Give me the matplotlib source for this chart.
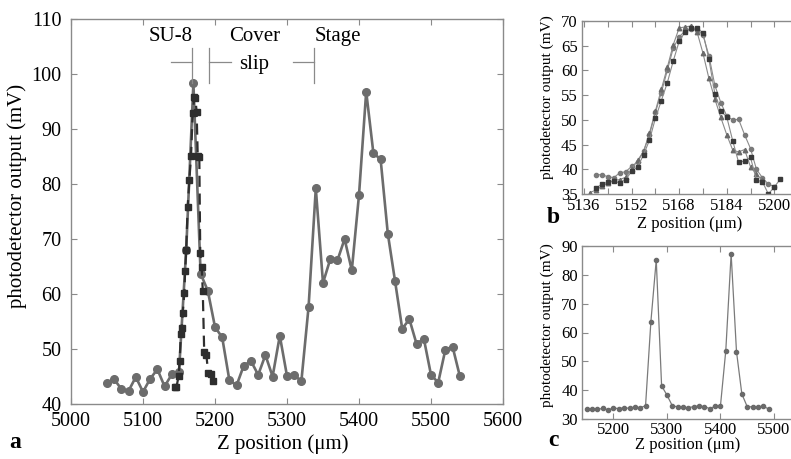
import matplotlib
matplotlib.use("Agg")
import matplotlib.pyplot as plt
import numpy as np

plt.rcParams["font.family"] = ["Liberation Serif", "DejaVu Serif"]

# ---- panel a data ----
a_circ_x = [5050, 5060, 5070, 5080, 5090, 5100, 5110, 5120, 5130, 5140,
            5150, 5160, 5170, 5180, 5190, 5200, 5210, 5220, 5230, 5240,
            5250, 5260, 5270, 5280, 5290, 5300, 5310, 5320, 5330, 5340,
            5350, 5360, 5370, 5380, 5390, 5400, 5410, 5420, 5430, 5440,
            5450, 5460, 5470, 5480, 5490, 5500, 5510, 5520, 5530, 5540]
a_circ_y = [43.9, 44.5, 42.7, 42.4, 44.9, 42.2, 44.6, 46.3, 43.2, 45.4,
            45.9, 68.0, 98.3, 63.7, 60.6, 54.0, 52.1, 44.3, 43.4, 47.0,
            47.8, 45.3, 48.9, 45.0, 52.4, 45.1, 45.2, 44.2, 57.7, 79.2,
            62.0, 66.3, 66.1, 70.0, 64.3, 78.0, 96.8, 85.6, 84.5, 71.0,
            62.4, 53.7, 55.4, 50.9, 51.9, 45.3, 43.9, 49.9, 50.4, 45.1]

a_sq_x = [5144.4, 5146.5, 5149.5, 5151.0, 5152.5, 5153.8, 5155.2, 5157.4,
          5158.5, 5160.0, 5162.0, 5164.4, 5166.7, 5169.0, 5171.3, 5172.7,
          5174.5, 5176.0, 5178.2, 5179.5, 5181.5, 5183.0, 5185.0, 5188.0,
          5190.5, 5194.0, 5197.7]
a_sq_y = [43.1, 43.1, 45.1, 47.9, 52.8, 53.8, 56.6, 60.1,
          64.1, 68.0, 75.9, 80.7, 85.1, 92.9, 95.9, 95.6,
          93.1, 85.1, 85.0, 67.5, 65.0, 60.6, 49.5, 48.9,
          45.7, 45.5, 44.2]

a_xticks = [5000, 5100, 5200, 5300, 5400, 5500, 5600]
a_yticks = [40, 50, 60, 70, 80, 90, 100, 110]

# region labels / brackets (data coords)
region_labels = [("SU-8", 5139, 106.8), ("Cover", 5255, 106.8),
                 ("slip", 5255, 101.8), ("Stage", 5371, 106.8)]
bracket_vlines = [5167.6, 5192.0, 5337.5]
bracket_hlines = [(5139, 5167.6), (5192.0, 5222), (5308, 5337.5)]

# ---- panel b data ----
b_x = [5138, 5140, 5142, 5144, 5146, 5148, 5150, 5152, 5154, 5156, 5158,
       5160, 5162, 5164, 5166, 5168, 5170, 5172, 5174, 5176, 5178, 5180,
       5182, 5184, 5186, 5188, 5190, 5192, 5194, 5196, 5198, 5200, 5202]
b_circ = [np.nan, 38.9, 38.9, 38.5, 38.3, 39.3, 39.5, 40.6, 41.5, 43.6, 47.0,
          51.5, 55.5, 60.0, 64.5, 66.8, 68.0, 68.4, 68.2, 67.2, 63.0, 57.0,
          53.5, 50.8, 50.0, 50.1, 47.0, 44.2, 40.0, 38.3, 37.0, 36.5, np.nan]
b_tri = [35.3, 35.8, 36.6, 37.2, 37.8, 37.9, 38.4, 40.0, 41.8, 43.6, 47.3,
         51.8, 56.2, 60.6, 65.2, 68.6, 68.8, 69.0, 67.8, 63.5, 58.4, 54.2,
         50.5, 47.0, 43.9, 43.5, 44.0, 40.5, 39.0, 37.8, np.nan, np.nan, np.nan]
b_sq = [np.nan, 36.2, 37.0, 37.4, 37.6, 37.3, 37.9, 39.6, 40.5, 42.9, 45.9,
        50.3, 53.9, 57.5, 61.9, 65.9, 67.8, 68.5, 68.6, 67.6, 62.3, 55.3,
        51.8, 50.6, 45.8, 41.4, 41.7, 42.4, 37.8, 37.5, 35.0, 36.4, 38.0]
b_xticks = [5136, 5152, 5168, 5184, 5200]
b_yticks = [35, 40, 45, 50, 55, 60, 65, 70]

# ---- panel c data ----
c_x = [5150, 5160, 5170, 5180, 5190, 5200, 5210, 5220, 5230, 5240, 5250,
       5260, 5270, 5280, 5290, 5300, 5310, 5320, 5330, 5340, 5350, 5360,
       5370, 5380, 5390, 5400, 5410, 5420, 5430, 5440, 5450, 5460, 5470,
       5480, 5490]
c_y = [33.4, 33.5, 33.3, 33.7, 33.2, 33.8, 33.6, 33.9, 33.7, 34.2, 33.9,
       34.6, 63.8, 85.2, 41.5, 38.3, 34.6, 34.2, 34.1, 33.9, 34.3, 34.5,
       34.3, 33.6, 34.4, 34.5, 53.7, 87.3, 53.4, 38.7, 34.3, 34.2, 34.3,
       34.4, 33.5]
c_xticks = [5200, 5300, 5400, 5500]
c_yticks = [30, 40, 50, 60, 70, 80, 90]

SPINE = "#8a8a8a"
GRAY = "#6c6c6c"
DARK = "#2e2e2e"
W, H = 791, 459


def frame(ax, size, xpad, ypad):
    for s in ax.spines.values():
        s.set_color(SPINE)
        s.set_linewidth(1.0)
    ax.tick_params(which="both", direction="in", top=True, right=True,
                   length=4, width=0.8, color=SPINE, labelsize=size)
    ax.tick_params(axis="x", pad=xpad)
    ax.tick_params(axis="y", pad=ypad)


fig = plt.figure(figsize=(W / 100, H / 100), dpi=100)

# panel a
ax = fig.add_axes([71 / W, 1 - 404 / H, 432 / W, 385 / H])
ax.plot(a_circ_x, a_circ_y, "-o", color=GRAY, lw=1.9, ms=5.5,
        mfc=GRAY, mec=GRAY)
ax.plot(a_sq_x, a_sq_y, "--s", color=DARK, lw=1.6, ms=5,
        mfc=DARK, mec=DARK, dashes=(5, 3))
ax.set_xlim(5000, 5600)
ax.set_ylim(40, 110)
ax.set_xticks(a_xticks)
ax.set_yticks(a_yticks)
frame(ax, 14.5, 6, 7)
ax.set_xlabel("Z position (\u03bcm)", fontsize=15)
ax.set_ylabel("photodetector output (mV)", fontsize=15)
ax.xaxis.set_label_coords(0.49, -0.078)
ax.yaxis.set_label_coords(-0.102, 0.54)
for txt, x, y in region_labels:
    ax.text(x, y, txt, fontsize=15, ha="center", va="center")
for x in bracket_vlines:
    ax.plot([x, x], [98.4, 104.7], color=SPINE, lw=0.9)
for x0, x1 in bracket_hlines:
    ax.plot([x0, x1], [102.1, 102.1], color=SPINE, lw=0.9)

# panel b
bx = fig.add_axes([582 / W, 1 - 194 / H, 222 / W, 173 / H])
bx.plot(b_x, b_circ, "-o", color="#8a8a8a", lw=0.8, ms=3, mfc="#7a7a7a",
        mec="#7a7a7a")
bx.plot(b_x, b_tri, "-^", color="#8a8a8a", lw=0.8, ms=3.2, mfc="#6a6a6a",
        mec="#6a6a6a")
bx.plot(b_x, b_sq, "-s", color="#8a8a8a", lw=0.8, ms=3.2, mfc="#3a3a3a",
        mec="#3a3a3a")
bx.set_xlim(5135.3, 5210)
bx.set_ylim(35, 70)
bx.set_xticks(b_xticks)
bx.set_xticks([5144, 5160, 5176, 5192, 5208], minor=True)
bx.set_yticks(b_yticks)
frame(bx, 12, 3, 3)
bx.set_xlabel("Z position (\u03bcm)", fontsize=12)
bx.set_ylabel("photodetector output (mV)", fontsize=11)
bx.xaxis.set_label_coords(0.486, -0.125)
bx.yaxis.set_label_coords(-0.125, 0.56)

# panel c
cx = fig.add_axes([582 / W, 1 - 419 / H, 216 / W, 173 / H])
cx.plot(c_x, c_y, "-o", color="#7a7a7a", lw=0.9, ms=3, mfc="#6a6a6a",
        mec="#6a6a6a")
cx.set_xlim(5141.2, 5545)
cx.set_ylim(30, 90)
cx.set_xticks(c_xticks)
cx.set_yticks(c_yticks)
frame(cx, 12, 2, 3)
cx.set_xlabel("Z position (\u03bcm)", fontsize=12)
cx.set_ylabel("photodetector output (mV)", fontsize=11)
cx.xaxis.set_label_coords(0.49, -0.105)
cx.yaxis.set_label_coords(-0.13, 0.54)

fig.text(15 / W, 1 - 443 / H, "a", fontsize=17, fontweight="bold",
         ha="center", va="center")
fig.text(553 / W, 1 - 218 / H, "b", fontsize=17, fontweight="bold",
         ha="center", va="center")
fig.text(553 / W, 1 - 441 / H, "c", fontsize=17, fontweight="bold",
         ha="center", va="center")

fig.savefig("out.png", dpi=100)
